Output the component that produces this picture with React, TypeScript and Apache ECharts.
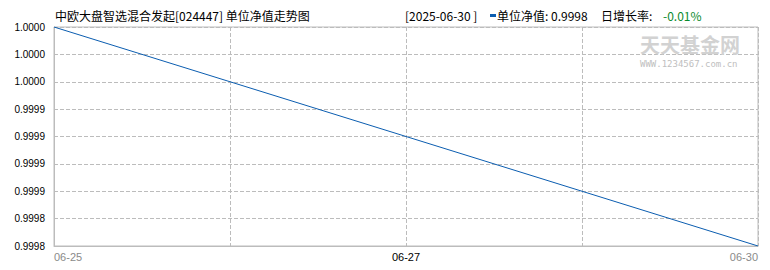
import React, { useEffect, useRef } from "react";
import * as echarts from "echarts";

// ---- data ----
const xTickLabels = ["06-25", "", "06-27", "", "06-30"];
const navDates = ["06-25", "06-30"];
const navValues = [1.0, 0.9998];
const yMin = 0.9998;
const yMax = 1.0;
const yStep = 0.000025;
const yTickLabels = [
  "0.9998",
  "0.9998",
  "0.9999",
  "0.9999",
  "0.9999",
  "0.9999",
  "1.0000",
  "1.0000",
  "1.0000",
];
const titleText = "中欧大盘智选混合发起[024447] 单位净值走势图";
const latestDate = "[2025-06-30 ]";
const navLabel = "单位净值: 0.9998";
const growthLabel = "日增长率: ";
const growthValue = "-0.01%";
const watermark = "天天基金网";
const watermarkUrl = "WWW.1234567.com.cn";

const LINE_COLOR = "#0b5db0";
const GRID_COLOR = "#bcbcbc";
const CJK = '"Noto Sans CJK SC", "Liberation Sans", sans-serif';
const NUM = '"Liberation Sans", "Noto Sans CJK SC", sans-serif';

export default function App() {
  const ref = useRef<HTMLDivElement>(null);

  useEffect(() => {
    document.body.style.margin = "0";
    if (!ref.current) return;
    const chart = echarts.init(ref.current, undefined, { renderer: "svg" });
    const lastIdx = xTickLabels.length - 1;
    chart.setOption({
      animation: false,
      backgroundColor: "#ffffff",
      grid: {
        left: 54,
        right: 12,
        top: 27,
        bottom: 24,
        show: true,
        borderColor: GRID_COLOR,
        borderWidth: 1,
        containLabel: false,
        outerBoundsMode: "none",
      },
      xAxis: {
        type: "value",
        min: 0,
        max: lastIdx,
        interval: 1,
        axisLine: { show: true, onZero: false, lineStyle: { color: GRID_COLOR } },
        axisTick: { show: false },
        splitLine: { show: true, lineStyle: { color: GRID_COLOR, type: [4, 2] } },
        axisLabel: {
          margin: 5,
          fontSize: 11,
          fontFamily: NUM,
          alignMinLabel: "left",
          alignMaxLabel: "right",
          formatter: (v: number) => {
            const i = Math.round(v);
            const t = xTickLabels[i] || "";
            if (!t) return "";
            return i === 0 || i === lastIdx ? `{g|${t}}` : `{b|${t}}`;
          },
          rich: {
            g: { color: "#8a8a8a", fontSize: 11, fontFamily: NUM },
            b: { color: "#000000", fontSize: 11, fontFamily: NUM },
          },
        },
      },
      yAxis: {
        type: "value",
        min: yMin,
        max: yMax,
        interval: yStep,
        axisLine: { show: true, lineStyle: { color: GRID_COLOR } },
        axisTick: { show: false },
        splitLine: { show: true, lineStyle: { color: GRID_COLOR, type: [4, 2] } },
        axisLabel: {
          margin: 9,
          color: "#000000",
          fontSize: 10,
          fontFamily: NUM,
          formatter: (v: number) => yTickLabels[Math.round((v - yMin) / yStep)] ?? "",
        },
      },
      series: [
        {
          type: "line",
          data: navDates.map((d, i) => [xTickLabels.indexOf(d), navValues[i]]),
          showSymbol: false,
          symbol: "none",
          lineStyle: { color: LINE_COLOR, width: 1 },
          itemStyle: { color: LINE_COLOR },
          silent: true,
        },
      ],
      graphic: [
        {
          type: "text",
          x: 640,
          y: 44,
          z: 10,
          style: {
            text: watermark,
            font: `bold 20px ${CJK}`,
            fill: "#d2d2d2",
            verticalAlign: "middle",
            lineHeight: 20,
          },
        },
        {
          type: "text",
          x: 640,
          y: 63.5,
          z: 10,
          style: {
            text: watermarkUrl,
            font: `9px "DejaVu Sans Mono", monospace`,
            fill: "#c0c0c0",
            verticalAlign: "middle",
            lineHeight: 9,
          },
        },
        {
          type: "text",
          x: 55,
          y: 15.5,
          style: {
            text: titleText,
            font: `12px ${CJK}`,
            fill: "#000000",
            verticalAlign: "middle",
          },
        },
        {
          type: "text",
          x: 405,
          y: 15.5,
          style: {
            text: latestDate,
            font: `12px ${CJK}`,
            fill: "#000000",
            verticalAlign: "middle",
          },
        },
        {
          type: "rect",
          shape: { x: 490, y: 14, width: 6, height: 3 },
          style: { fill: LINE_COLOR },
        },
        {
          type: "text",
          x: 497,
          y: 15.5,
          style: {
            text: navLabel,
            font: `12px ${CJK}`,
            fill: "#000000",
            verticalAlign: "middle",
          },
        },
        {
          type: "text",
          x: 601,
          y: 15.5,
          style: {
            text: growthLabel,
            font: `12px ${CJK}`,
            fill: "#000000",
            verticalAlign: "middle",
          },
        },
        {
          type: "text",
          x: 663,
          y: 15.5,
          style: {
            text: growthValue,
            font: `12px ${CJK}`,
            fill: "#0a8a2e",
            verticalAlign: "middle",
          },
        },
      ],
    });
    return () => chart.dispose();
  }, []);

  return <div ref={ref} style={{ width: 770, height: 270 }} />;
}
